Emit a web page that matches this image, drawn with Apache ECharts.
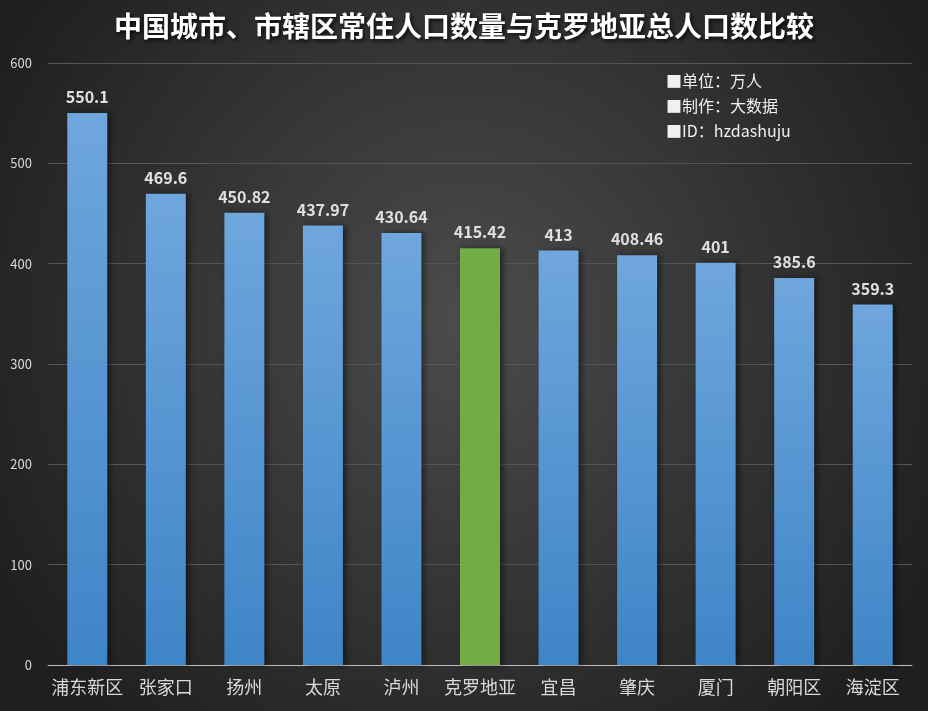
<!DOCTYPE html>
<html><head><meta charset="utf-8">
<script src="https://cdn.jsdelivr.net/npm/echarts@6/dist/echarts.min.js"></script>
<style>html,body{margin:0;padding:0;}#c{width:928px;height:711px;}</style>
</head><body><div id="c"></div>
<script>
const categories = ['浦东新区','张家口','扬州','太原','泸州','克罗地亚','宜昌','肇庆','厦门','朝阳区','海淀区'];
const values = [550.1, 469.6, 450.82, 437.97, 430.64, 415.42, 413, 408.46, 401, 385.6, 359.3];
const highlight = '克罗地亚';
const yTicks = {min: 0, max: 600, interval: 100};
const notes = ['■单位：万人', '■制作：大数据', '■ID：hzdashuju'];

const font = '"Microsoft YaHei","Noto Sans CJK SC",sans-serif';
const blueGrad = new echarts.graphic.LinearGradient(0,0,0,1,[{offset:0,color:'#6fa6dd'},{offset:1,color:'#3e85c7'}]);
const chart = echarts.init(document.getElementById('c'));
chart.setOption({
  backgroundColor: {type:'radial', x:0.5, y:0.45, r:0.75, colorStops:[{offset:0,color:'#4c4c4c'},{offset:1,color:'#1f1f1f'}]},
  title: {text:'中国城市、市辖区常住人口数量与克罗地亚总人口数比较', left:'center', top:7,
    textStyle:{color:'#ffffff', fontSize:28, fontWeight:'bold', fontFamily:font, textShadowColor:'rgba(0,0,0,0.8)', textShadowBlur:4, textShadowOffsetX:2, textShadowOffsetY:2}},
  grid: {left:48, right:16, top:63, bottom:46, containLabel:false},
  xAxis: {type:'category', data:categories,
    axisLine:{lineStyle:{color:'#bfbfbf', width:1}}, axisTick:{show:false},
    axisLabel:{color:'#d9d9d9', fontSize:18, fontFamily:font, margin:13, interval:0}},
  yAxis: {type:'value', min:yTicks.min, max:yTicks.max, interval:yTicks.interval,
    axisLine:{show:false}, axisTick:{show:false},
    axisLabel:{color:'#d9d9d9', fontSize:13, fontFamily:font, margin:16},
    splitLine:{lineStyle:{color:'#555555', width:1}}},
  series: [{type:'bar', barWidth:40,
    data: values.map((v,i)=>({value:v, itemStyle:{color: categories[i]===highlight ? '#70ad47' : blueGrad}})),
    itemStyle:{shadowColor:'rgba(0,0,0,0.5)', shadowBlur:6, shadowOffsetX:3, shadowOffsetY:0},
    label:{show:true, position:'top', distance:8, color:'#e0e0e0', fontSize:16, fontWeight:'bold', fontFamily:font}}],
  graphic: notes.map((t,i)=>({type:'text', left:666, top:73+i*25, style:{text:t, fill:'#f0f0f0', fontSize:16, fontFamily:font}}))
});
</script></body></html>
